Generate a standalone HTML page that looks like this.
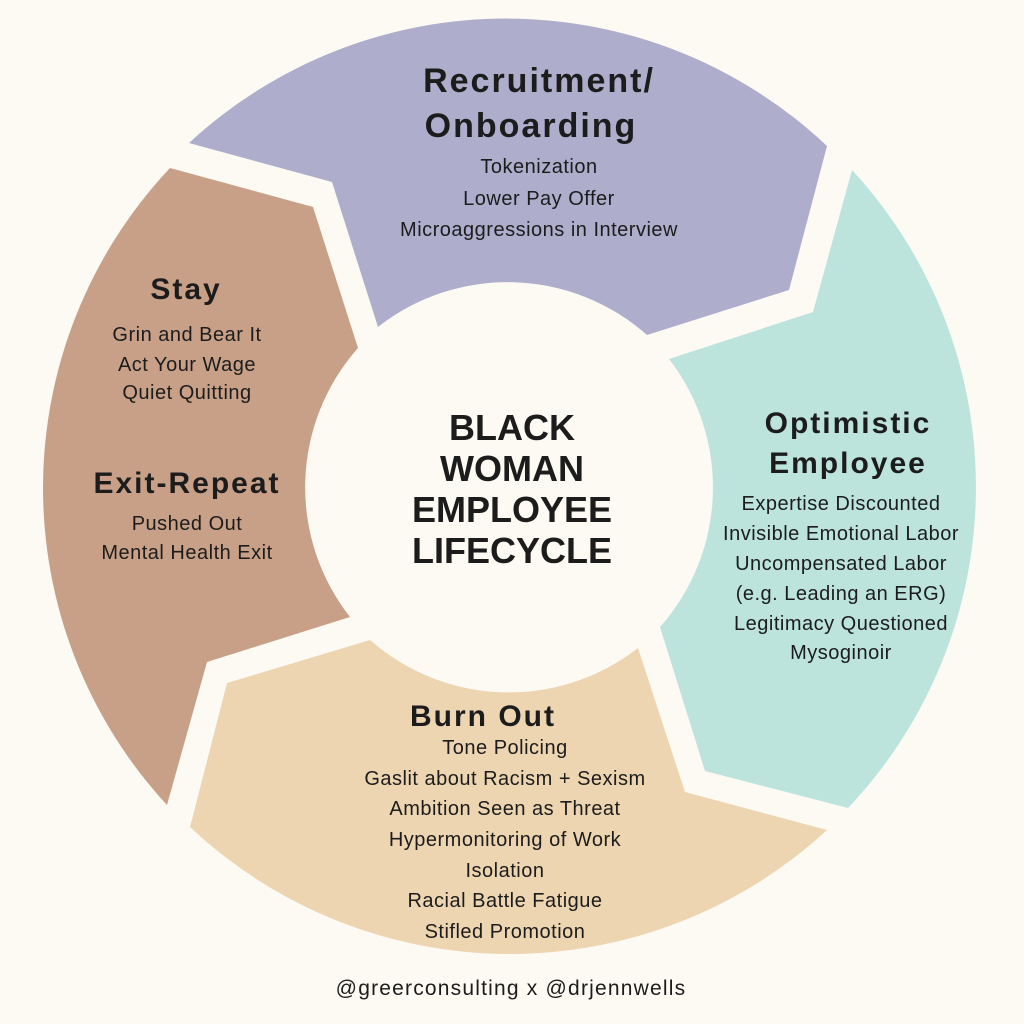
<!DOCTYPE html>
<html><head><meta charset="utf-8"><style>
html,body{margin:0;padding:0;background:#fdfaf3;}
svg{display:block}
text{font-family:"Liberation Sans",sans-serif;fill:#1c1c1c;text-anchor:middle}
.h{font-weight:bold;font-size:30px;letter-spacing:2px}
.t{font-size:20px;letter-spacing:0.5px}
.c{font-weight:bold;font-size:36px}
</style></head><body>
<svg width="1024" height="1024" viewBox="0 0 1024 1024" xmlns="http://www.w3.org/2000/svg">
<rect width="1024" height="1024" fill="#fdfaf3"/>
<path d="M189,143 A467,467 0 0 1 827,146 L789,290 L647,335 A210,210 0 0 0 378,327 L332,182 Z" fill="#aeadcc"/>
<path d="M852,170 A467,467 0 0 1 848,808 L705,771 L660,627 A210,210 0 0 0 669,359 L813,312 Z" fill="#bce3dc"/>
<path d="M827,830 A467,467 0 0 1 190,827 L227,683 L370,640 A210,210 0 0 0 638,648 L685,792 Z" fill="#eed5b1"/>
<path d="M167,805 A467,467 0 0 1 170,168 L313,207 L358,348 A210,210 0 0 0 350,617 L207,662 Z" fill="#c8a088"/>

<text class="h" x="539" y="92" style="font-size:34px">Recruitment/</text>
<text class="h" x="531" y="137" style="font-size:34px">Onboarding</text>
<text class="t" x="539" y="173">Tokenization</text>
<text class="t" x="539" y="205">Lower Pay Offer</text>
<text class="t" x="539" y="236">Microaggressions in Interview</text>

<text class="h" x="186" y="299">Stay</text>
<text class="t" x="187" y="341">Grin and Bear It</text>
<text class="t" x="187" y="371">Act Your Wage</text>
<text class="t" x="187" y="399">Quiet Quitting</text>
<text class="h" x="187" y="493">Exit-Repeat</text>
<text class="t" x="187" y="530">Pushed Out</text>
<text class="t" x="187" y="559">Mental Health Exit</text>

<text class="h" x="848" y="433">Optimistic</text>
<text class="h" x="848" y="473">Employee</text>
<text class="t" x="841" y="510">Expertise Discounted</text>
<text class="t" x="841" y="540">Invisible Emotional Labor</text>
<text class="t" x="841" y="570">Uncompensated Labor</text>
<text class="t" x="841" y="600">(e.g. Leading an ERG)</text>
<text class="t" x="841" y="630">Legitimacy Questioned</text>
<text class="t" x="841" y="659">Mysoginoir</text>

<text class="h" x="483" y="726">Burn Out</text>
<text class="t" x="505" y="754">Tone Policing</text>
<text class="t" x="505" y="785">Gaslit about Racism + Sexism</text>
<text class="t" x="505" y="815">Ambition Seen as Threat</text>
<text class="t" x="505" y="846">Hypermonitoring of Work</text>
<text class="t" x="505" y="877">Isolation</text>
<text class="t" x="505" y="907">Racial Battle Fatigue</text>
<text class="t" x="505" y="938">Stifled Promotion</text>

<text class="c" x="512" y="440">BLACK</text>
<text class="c" x="512" y="481">WOMAN</text>
<text class="c" x="512" y="522">EMPLOYEE</text>
<text class="c" x="512" y="563">LIFECYCLE</text>

<text x="511" y="995" style="font-size:21px;letter-spacing:1.2px">@greerconsulting x @drjennwells</text>
</svg>
</body></html>
